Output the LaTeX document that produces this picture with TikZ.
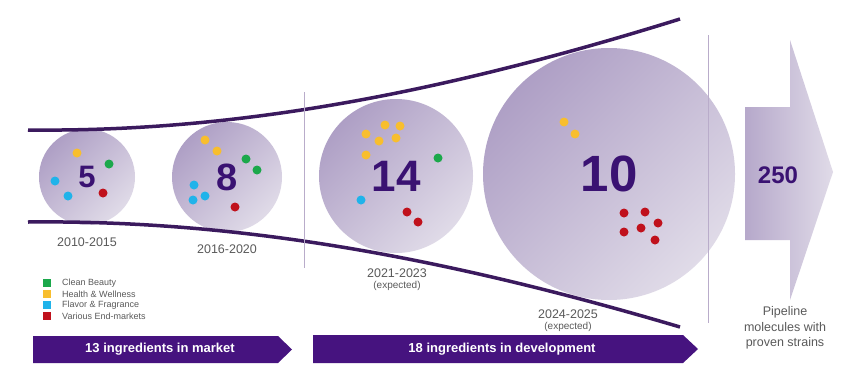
\documentclass[tikz,border=0pt]{standalone}
\usepackage{fontspec}
\setmainfont{Liberation Sans}
\usetikzlibrary{positioning}

\definecolor{funnelpurple}{HTML}{3B1A5E}
\definecolor{numpurple}{HTML}{3A1272}
\definecolor{barpurple}{HTML}{46137F}
\definecolor{bubbledark}{HTML}{AE9FC5}
\definecolor{bubblelight}{HTML}{E0DBE8}
\definecolor{sepline}{HTML}{B9ACCA}
\definecolor{labelgray}{HTML}{5A5A5A}
\definecolor{cleanbeauty}{HTML}{1BA84B}
\definecolor{healthwell}{HTML}{F8BE2E}
\definecolor{flavorfrag}{HTML}{20B3EA}
\definecolor{variousend}{HTML}{C0111C}

\tikzset{
  bubble/.style={circle, inner sep=0pt, top color=bubbledark, bottom color=bubblelight,
    shading angle=45, text=numpurple, font=\bfseries},
  funnel/.style={color=funnelpurple, line width=3.5pt},
  yearlabel/.style={text=labelgray, font=\fontsize{12.5}{14}\selectfont, inner sep=0pt},
  expectlabel/.style={text=labelgray, font=\fontsize{10}{12}\selectfont, inner sep=0pt},
  legendbox/.style={minimum size=8pt, inner sep=0pt},
  legendtext/.style={anchor=west, text=labelgray, font=\fontsize{9}{10}\selectfont, inner sep=0pt},
  bartext/.style={text=white, font=\fontsize{13}{15}\selectfont\bfseries},
}

\begin{document}
\begin{tikzpicture}[scale=1.000000,x=1pt,y=-1pt]
\useasboundingbox[fill=white] (0.000000, 0.000000) rectangle (850.000000, 383.000000);
% Drawing bubbles
\node[bubble, minimum size=96pt, font=\fontsize{31}{31}\selectfont\bfseries] (bubbleA) at (87.000000, 177.000000) {5};
\node[bubble, minimum size=110pt, font=\fontsize{38}{38}\selectfont\bfseries] (bubbleB) at (227.000000, 177.000000) {8};
\node[bubble, minimum size=154pt, font=\fontsize{44}{44}\selectfont\bfseries] (bubbleC) at (396.000000, 176.000000) {14};
\node[bubble, minimum size=252pt, font=\fontsize{51}{51}\selectfont\bfseries] (bubbleD) at (609.000000, 174.000000) {10};
% Bubble 1: 2010-2015
\fill[healthwell] (77.000000, 153.000000) circle (4.5pt);
\fill[cleanbeauty] (109.000000, 164.000000) circle (4.5pt);
\fill[flavorfrag] (55.000000, 181.000000) circle (4.5pt);
\fill[flavorfrag] (68.000000, 196.000000) circle (4.5pt);
\fill[variousend] (103.000000, 193.000000) circle (4.5pt);
% Bubble 2: 2016-2020
\fill[healthwell] (205.000000, 140.000000) circle (4.5pt);
\fill[healthwell] (217.000000, 151.000000) circle (4.5pt);
\fill[cleanbeauty] (246.000000, 159.000000) circle (4.5pt);
\fill[cleanbeauty] (257.000000, 170.000000) circle (4.5pt);
\fill[flavorfrag] (194.000000, 185.000000) circle (4.5pt);
\fill[flavorfrag] (193.000000, 200.000000) circle (4.5pt);
\fill[flavorfrag] (205.000000, 196.000000) circle (4.5pt);
\fill[variousend] (235.000000, 207.000000) circle (4.5pt);
% Bubble 3: 2021-2023
\fill[healthwell] (366.000000, 134.000000) circle (4.5pt);
\fill[healthwell] (385.000000, 125.000000) circle (4.5pt);
\fill[healthwell] (400.000000, 126.000000) circle (4.5pt);
\fill[healthwell] (379.000000, 141.000000) circle (4.5pt);
\fill[healthwell] (396.000000, 138.000000) circle (4.5pt);
\fill[healthwell] (366.000000, 155.000000) circle (4.5pt);
\fill[cleanbeauty] (438.000000, 158.000000) circle (4.5pt);
\fill[flavorfrag] (361.000000, 200.000000) circle (4.5pt);
\fill[variousend] (407.000000, 212.000000) circle (4.5pt);
\fill[variousend] (418.000000, 222.000000) circle (4.5pt);
% Bubble 4: 2024-2025
\fill[healthwell] (564.000000, 122.000000) circle (4.5pt);
\fill[healthwell] (575.000000, 134.000000) circle (4.5pt);
\fill[variousend] (624.000000, 213.000000) circle (4.5pt);
\fill[variousend] (645.000000, 212.000000) circle (4.5pt);
\fill[variousend] (658.000000, 223.000000) circle (4.5pt);
\fill[variousend] (624.000000, 232.000000) circle (4.5pt);
\fill[variousend] (641.000000, 228.000000) circle (4.5pt);
\fill[variousend] (655.000000, 240.000000) circle (4.5pt);
% Drawing funnel
\draw[funnel] (28.000000, 130.000000) .. controls (220.000000, 132.000000) and (420.000000, 100.000000) .. (680.000000, 19.000000);
\draw[funnel] (28.000000, 222.000000) .. controls (220.000000, 220.000000) and (420.000000, 250.000000) .. (680.000000, 327.000000);
% Separators
\draw[sepline, line width=0.8pt] (304.000000, 92.000000) -- (304.000000, 268.000000);
\draw[sepline, line width=0.8pt] (708.000000, 35.000000) -- (708.000000, 323.000000);
% Pipeline arrow
\shade[left color=bubbledark!90, right color=bubblelight] (745.000000, 107.000000) -- (790.000000, 107.000000) -- (790.000000, 40.000000) -- (833.000000, 172.000000) -- (790.000000, 300.000000) -- (790.000000, 240.000000) -- (745.000000, 240.000000) -- cycle;
\node[text=numpurple, font=\fontsize{24}{24}\selectfont\bfseries] (pipenum) at (778.000000, 175.000000) {250};
\node[text=labelgray, align=center, font=\fontsize{12.5}{15.5}\selectfont] (pipetext) at (785.000000, 328.000000) {Pipeline\\molecules with\\proven strains};
% Year labels
\node[yearlabel] (yearA) at (87.000000, 242.000000) {2010-2015};
\node[yearlabel] (yearB) at (227.000000, 249.000000) {2016-2020};
\node[yearlabel] (yearC) at (397.000000, 273.000000) {2021-2023};
\node[expectlabel] (expC) at (397.000000, 285.500000) {(expected)};
\node[yearlabel] (yearD) at (568.000000, 314.000000) {2024-2025};
\node[expectlabel] (expD) at (568.000000, 326.500000) {(expected)};
% Legend
\node[legendbox, fill=cleanbeauty] (keyA) at (47.000000, 283.000000) {};
\node[legendbox, fill=healthwell] (keyB) at (47.000000, 294.000000) {};
\node[legendbox, fill=flavorfrag] (keyC) at (47.000000, 305.000000) {};
\node[legendbox, fill=variousend] (keyD) at (47.000000, 316.000000) {};
\node[legendtext] (keytextA) at (62.000000, 283.000000) {Clean Beauty};
\node[legendtext] (keytextB) at (62.000000, 294.000000) {Health \& Wellness};
\node[legendtext] (keytextC) at (62.000000, 305.000000) {Flavor \& Fragrance};
\node[legendtext] (keytextD) at (62.000000, 316.000000) {Various End-markets};
% Bottom bars
\fill[barpurple] (33.000000, 336.000000) -- (278.000000, 336.000000) -- (292.000000, 349.500000) -- (278.000000, 363.000000) -- (33.000000, 363.000000) -- cycle;
\node[bartext] (barA) at (160.000000, 349.500000) {13 ingredients in market};
\fill[barpurple] (313.000000, 335.000000) -- (683.000000, 335.000000) -- (698.000000, 349.000000) -- (683.000000, 363.000000) -- (313.000000, 363.000000) -- cycle;
\node[bartext] (barB) at (502.000000, 349.000000) {18 ingredients in development};
% Done
\end{tikzpicture}
\end{document}
